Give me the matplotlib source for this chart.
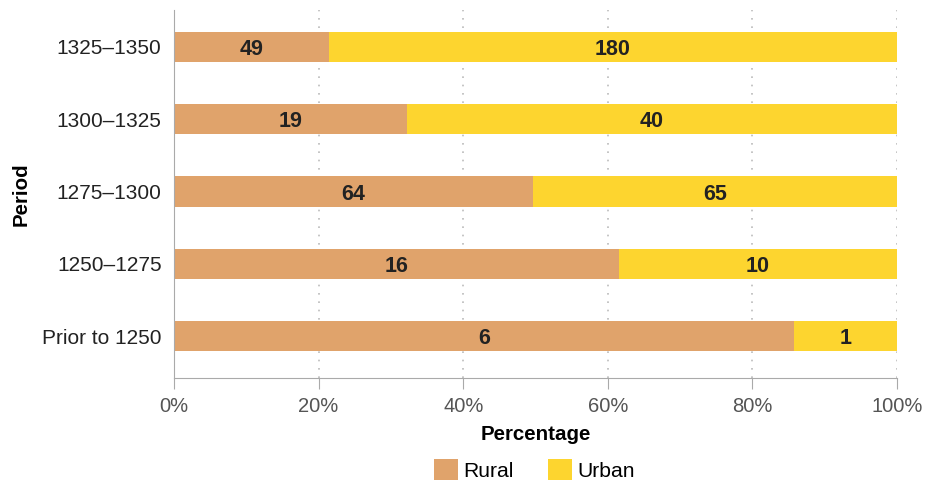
import matplotlib
matplotlib.use("Agg")
import matplotlib.pyplot as plt
import numpy as np

# 数据
periods = ["Prior to 1250", "1250\u20131275", "1275\u20131300", "1300\u20131325", "1325\u20131350"]
rural = [6, 16, 64, 19, 49]
urban = [1, 10, 65, 40, 180]
xticks = [0, 20, 40, 60, 80, 100]

RURAL_C = "#e0a36b"
URBAN_C = "#fdd52f"

plt.rcParams["font.family"] = ["Liberation Sans", "DejaVu Sans"]

rural = np.array(rural, dtype=float)
urban = np.array(urban, dtype=float)
total = rural + urban
rp = rural / total * 100
up = urban / total * 100
y = np.arange(len(periods))

fig = plt.figure(figsize=(9.29, 4.82), dpi=100)
ax = fig.add_axes([0.1873, 0.2158, 0.7783, 0.7632])

b1 = ax.barh(y, rp, height=0.42, color=RURAL_C, label="Rural")
b2 = ax.barh(y, up, left=rp, height=0.42, color=URBAN_C, label="Urban")

# 标注数值
for i in range(len(y)):
    ax.text(rp[i] / 2, y[i], "%d" % rural[i], ha="center", va="center_baseline",
            fontsize=15.5, fontweight="bold", color="#222222")
    ax.text(rp[i] + up[i] / 2, y[i], "%d" % urban[i], ha="center", va="center_baseline",
            fontsize=15.5, fontweight="bold", color="#222222")

ax.set_xlim(0, 100)
ax.set_ylim(-0.58, 4.51)
ax.set_xticks(xticks)
ax.set_xticklabels(["%d%%" % t for t in xticks])
ax.set_yticks(y)
ax.set_yticklabels(periods)

for t in xticks[1:]:
    ax.axvline(t, color="#bbbbbb", linestyle=(0, (1, 4)), linewidth=1.2, zorder=0)

for s in ["top", "right"]:
    ax.spines[s].set_visible(False)
ax.spines["left"].set_color("#aaaaaa")
ax.spines["bottom"].set_color("#aaaaaa")
ax.tick_params(axis="x", length=8, color="#aaaaaa", labelsize=14.5, labelcolor="#555555", pad=6)
ax.tick_params(axis="y", length=0, labelsize=15, labelcolor="#222222", pad=9)

ax.set_xlabel("Percentage", fontsize=14.8, fontweight="bold", labelpad=6)
ax.set_ylabel("Period", fontsize=14.8, fontweight="bold", labelpad=8)

fig.legend(handles=[b1, b2], loc="center", bbox_to_anchor=(0.575, 0.025),
           ncol=2, frameon=False, fontsize=15.2, handlelength=1.15, handleheight=1.15,
           columnspacing=1.6, handletextpad=0.25)

fig.savefig("out.png", dpi=100)
